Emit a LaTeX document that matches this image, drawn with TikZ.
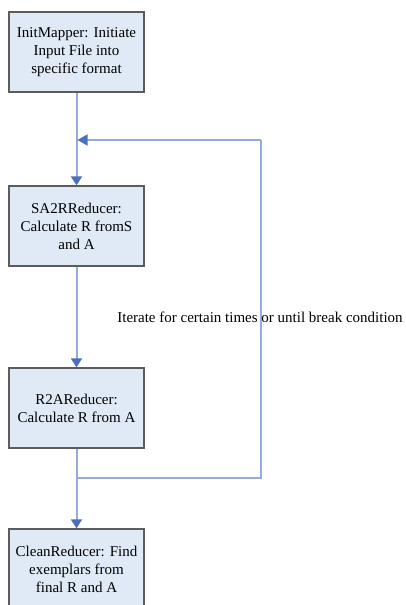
\documentclass[tikz,border=0pt]{standalone}
\usepackage{fontspec}
\setmainfont{Liberation Serif}
\usetikzlibrary{arrows.meta}
\definecolor{boxfill}{RGB}{224,234,246}
\definecolor{boxline}{RGB}{92,92,92}
\definecolor{flowline}{RGB}{150,172,216}
\definecolor{tipblue}{RGB}{72,112,190}
\tikzset{
  stage/.style={draw=boxline, line width=1.4pt, fill=boxfill,
    minimum width=135pt, minimum height=80pt, inner sep=2pt,
    align=center, font=\fontsize{15}{18}\selectfont},
  flow/.style={draw=flowline, line width=2pt,
    -{Triangle[width=11pt,length=9pt,color=tipblue]}},
  loopline/.style={draw=flowline, line width=1.6pt},
  note/.style={font=\fontsize{15}{18}\selectfont, inner sep=0pt}
}
\begin{document}
\begin{tikzpicture}[x=1pt,y=-1pt]
  \useasboundingbox (0,0) rectangle (405,605);
  \clip (0,0) rectangle (405,605);
  \fill[white] (0,0) rectangle (405,605);

  % processing stages
  \node[stage] (init)  at (76.5,52)  {InitMapper: Initiate\\Input File into\\specific format};
  \node[stage] (sa2r)  at (76.5,226) {SA2RReducer:\\Calculate R fromS\\and A};
  \node[stage] (r2a)   at (76.5,408) {R2AReducer:\\Calculate R from A};
  \node[stage] (clean) at (76.5,569) {CleanReducer: Find\\exemplars from\\final R and A};

  % loop corners
  \coordinate (join)  at (76.5,140);
  \coordinate (split) at (76.5,478);
  \coordinate (sbr)   at (261,478);
  \coordinate (str)   at (261,140);

  % main flow
  \draw[flow] (init.south) -- (sa2r.north);
  \draw[flow] (sa2r.south) -- (r2a.north);
  \draw[flow] (r2a.south) -- (clean.north);

  % iteration loop back to the top
  \draw[loopline] (split) -- (sbr) -- (str);
  \draw[loopline, -{Triangle[width=11pt,length=10pt,color=tipblue]}] (str) -- ([xshift=1pt]join);

  \node[note] (iter) at (260,317) {Iterate for certain times or until break condition};
\end{tikzpicture}
\end{document}
